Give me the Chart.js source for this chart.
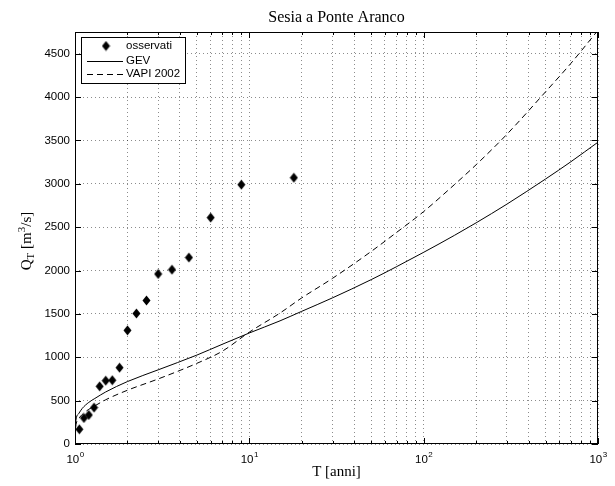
<!DOCTYPE html>
<html><head><meta charset="utf-8">
<script src="https://cdn.jsdelivr.net/npm/chart.js@4/dist/chart.umd.min.js"></script>
<style>html,body{margin:0;padding:0;background:#fff}#wrap{width:615px;height:486px;position:relative}</style>
</head><body><div id="wrap"><canvas id="c"></canvas></div>
<script>
// ---- data ----
const titleText = 'Sesia a Ponte Aranco';
const xAxisTitle = 'T [anni]';
const seriesNames = ['osservati', 'GEV', 'VAPI 2002'];

const obsT = [18, 9, 6, 4.5, 3.6, 3, 2.571, 2.25, 2, 1.8, 1.636, 1.5, 1.385, 1.286, 1.2, 1.125, 1.059];
const obsQ = [3070, 2990, 2610, 2150, 2010, 1960, 1655, 1505, 1310, 880, 735, 730, 665, 420, 335, 300, 170];

const gevT = [1, 1.01, 1.05, 1.1, 1.2, 1.3, 1.5, 2, 3, 5, 7, 10, 15, 20, 30, 50, 70, 100, 150, 200, 300, 500, 700, 1000];
const gevQ = [100, 260, 350, 410, 480, 525, 600, 720, 855, 1025, 1150, 1280, 1420, 1530, 1685, 1895, 2045, 2210, 2405, 2550, 2765, 3055, 3255, 3480];

const vapiT = [1, 1.01, 1.05, 1.1, 1.2, 1.3, 1.5, 2, 3, 5, 7, 10, 15, 20, 30, 50, 70, 100, 150, 200, 300, 500, 700, 1000];
const vapiQ = [80, 200, 290, 340, 400, 440, 510, 620, 750, 930, 1070, 1290, 1510, 1685, 1910, 2220, 2440, 2680, 2990, 3220, 3570, 4060, 4390, 4770];

const xGridValues = [1,2,3,4,5,6,7,8,9,10,20,30,40,50,60,70,80,90,100,200,300,400,500,600,700,800,900,1000];
const xLabelValues = [1, 10, 100, 1000];
const xLabelExps = ['0', '1', '2', '3'];
const yTickValues = [0, 500, 1000, 1500, 2000, 2500, 3000, 3500, 4000, 4500];

// ---- helpers ----
function makeDiamond() {
  const c = document.createElement('canvas');
  c.width = 9; c.height = 11;
  const g = c.getContext('2d');
  g.fillStyle = '#000';
  g.beginPath();
  g.moveTo(4.5, 0.5); g.lineTo(8.5, 5.5); g.lineTo(4.5, 10.5); g.lineTo(0.5, 5.5);
  g.closePath(); g.fill();
  return c;
}
const diamond = makeDiamond();
const pts = (xs, ys) => xs.map((v, i) => ({x: v, y: ys[i]}));
const SANS = '"Liberation Sans", Arial, sans-serif';
const SERIF = '"Liberation Serif", "Times New Roman", serif';

const deco = {
  id: 'deco',
  afterDraw(chart) {
    const {ctx, chartArea: a, scales: {x, y}} = chart;
    ctx.save();
    ctx.strokeStyle = '#000';
    ctx.lineWidth = 1;
    // inward ticks
    ctx.beginPath();
    xGridValues.forEach(v => {
      const px = Math.round(x.getPixelForValue(v)) + 0.5;
      const len = xLabelValues.includes(v) ? 6 : 3;
      ctx.moveTo(px, a.bottom); ctx.lineTo(px, a.bottom - len);
      ctx.moveTo(px, a.top); ctx.lineTo(px, a.top + len);
    });
    yTickValues.forEach(v => {
      const py = Math.round(y.getPixelForValue(v)) + 0.5;
      ctx.moveTo(a.left, py); ctx.lineTo(a.left + 6, py);
      ctx.moveTo(a.right, py); ctx.lineTo(a.right - 6, py);
    });
    ctx.stroke();
    // frame
    ctx.strokeRect(a.left + 0.5, a.top + 0.5, a.right - a.left - 1, a.bottom - a.top - 1);

    // x tick labels with superscript
    ctx.fillStyle = '#000';
    ctx.textBaseline = 'alphabetic';
    ctx.textAlign = 'left';
    xLabelValues.forEach((v, i) => {
      const px = x.getPixelForValue(v);
      ctx.font = '11.5px ' + SANS;
      const w1 = ctx.measureText('10').width;
      ctx.font = '8px ' + SANS;
      const w2 = ctx.measureText(xLabelExps[i]).width;
      const start = px - (w1 + w2) / 2;
      ctx.font = '11.5px ' + SANS;
      ctx.fillText('10', start, 463);
      ctx.font = '8px ' + SANS;
      ctx.fillText(xLabelExps[i], start + w1 + 0.5, 457);
    });

    // title
    ctx.textAlign = 'center';
    ctx.font = '16px ' + SERIF;
    ctx.fillText(titleText, (a.left + a.right) / 2, 22);
    // x title
    ctx.font = '15px ' + SERIF;
    ctx.fillText(xAxisTitle, (a.left + a.right) / 2, 476);
    // y title  Q_T [m^3/s]
    ctx.save();
    ctx.translate(31, (a.top + a.bottom) / 2 + 3);
    ctx.rotate(-Math.PI / 2);
    const parts = [
      {t: 'Q', f: 15, dy: 0},
      {t: 'T', f: 11, dy: 3},
      {t: ' [m', f: 15, dy: 0},
      {t: '3', f: 11, dy: -6},
      {t: '/s]', f: 15, dy: 0}
    ];
    let tw = 0;
    parts.forEach(p => { ctx.font = p.f + 'px ' + SERIF; p.w = ctx.measureText(p.t).width; tw += p.w; });
    let cx = -tw / 2;
    ctx.textAlign = 'left';
    parts.forEach(p => { ctx.font = p.f + 'px ' + SERIF; ctx.fillText(p.t, cx, p.dy); cx += p.w; });
    ctx.restore();

    // legend
    const lx = 81, ly = 37, lw = 104, lh = 46;
    ctx.fillStyle = '#fff';
    ctx.fillRect(lx, ly, lw, lh);
    ctx.strokeStyle = '#000';
    ctx.strokeRect(lx + 0.5, ly + 0.5, lw, lh);
    const rows = [46, 60.5, 74];
    ctx.font = '11.5px ' + SANS;
    ctx.fillStyle = '#000';
    ctx.textBaseline = 'middle';
    ctx.textAlign = 'left';
    chart.data.datasets.forEach((ds, i) => {
      const ry = rows[i];
      if (i === 0) {
        ctx.drawImage(diamond, 106 - diamond.width / 2, ry - diamond.height / 2);
      } else {
        ctx.beginPath();
        ctx.setLineDash(ds.borderDash || []);
        ctx.lineWidth = 1;
        ctx.moveTo(87, Math.round(ry) + 0.5); ctx.lineTo(123, Math.round(ry) + 0.5);
        ctx.stroke();
        ctx.setLineDash([]);
      }
      ctx.fillText(ds.label, 126, ry);
    });
    ctx.restore();
  }
};

new Chart(document.getElementById('c'), {
  type: 'scatter',
  data: {
    datasets: [
      {label: seriesNames[0], data: pts(obsT, obsQ), pointStyle: diamond, showLine: false},
      {label: seriesNames[1], data: pts(gevT, gevQ), showLine: true, pointRadius: 0, borderColor: '#000', borderWidth: 1, cubicInterpolationMode: 'monotone'},
      {label: seriesNames[2], data: pts(vapiT, vapiQ), showLine: true, pointRadius: 0, borderColor: '#000', borderWidth: 1, borderDash: [6, 4], cubicInterpolationMode: 'monotone'}
    ]
  },
  options: {
    responsive: true,
    maintainAspectRatio: false,
    animation: false,
    events: [],
    layout: {padding: {top: 32, right: 17, left: 0, bottom: 0}},
    plugins: {legend: {display: false}, tooltip: {enabled: false}, title: {display: false}},
    scales: {
      x: {
        type: 'logarithmic', min: 1, max: 1000,
        afterBuildTicks: s => { s.ticks = xGridValues.map(v => ({value: v})); },
        afterFit: s => { s.height = 42; },
        ticks: {display: false},
        grid: {color: 'rgba(0,0,0,0.45)', lineWidth: 1, drawTicks: false},
        border: {display: false, dash: [1, 3]}
      },
      y: {
        type: 'linear', min: 0, max: 4750,
        afterBuildTicks: s => { s.ticks = yTickValues.map(v => ({value: v})); },
        afterFit: s => { s.width = 75; },
        ticks: {padding: 5, color: '#000', font: {family: SANS, size: 11.5}, callback: v => String(v)},
        grid: {color: 'rgba(0,0,0,0.45)', lineWidth: 1, drawTicks: false},
        border: {display: false, dash: [1, 3]}
      }
    }
  },
  plugins: [deco]
});
</script>
</body></html>
